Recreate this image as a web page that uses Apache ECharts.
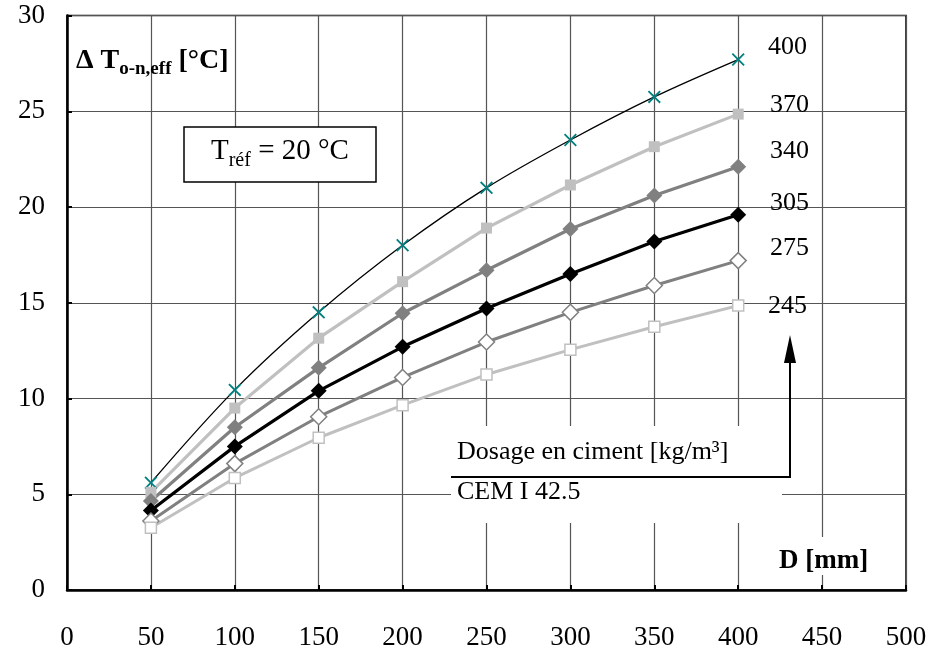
<!DOCTYPE html>
<html>
<head>
<meta charset="utf-8">
<script src="https://cdn.jsdelivr.net/npm/echarts@6/dist/echarts.min.js"></script>
<style>
	html, body { margin: 0; padding: 0; background: #fff; }
	#chart { width: 932px; height: 651px; }
</style>
</head>
<body>
<div id="chart"></div>
<script>
// épaisseur D [mm]
const dValues = [50, 100, 150, 200, 250, 300, 350, 400]

// dosage en ciment [kg/m3] -> ΔT [°C]
const dosages = ['400', '370', '340', '305', '275', '245']
const s400 = [5.6, 10.45, 14.5, 18.0, 21.0, 23.5, 25.75, 27.7]
const s370 = [5.1, 9.5, 13.15, 16.1, 18.9, 21.15, 23.15, 24.85]
const s340 = [4.65, 8.5, 11.6, 14.45, 16.7, 18.85, 20.6, 22.1]
const s305 = [4.15, 7.5, 10.4, 12.7, 14.7, 16.5, 18.2, 19.6]
const s275 = [3.6, 6.6, 9.05, 11.1, 12.95, 14.5, 15.9, 17.2]
const s245 = [3.25, 5.85, 7.95, 9.65, 11.25, 12.55, 13.75, 14.85]

const xTicks = [0, 50, 100, 150, 200, 250, 300, 350, 400, 450, 500]
const yTicks = [0, 5, 10, 15, 20, 25, 30]

const FONT = '"Liberation Serif", "Times New Roman", serif'
const crossPath = 'path://M0,1L1,0L5,4L9,0L10,1L6,5L10,9L9,10L5,6L1,10L0,9L4,5Z'

const pairs = (ys) => dValues.map((d, i) => [d, ys[i]])

const chart = echarts.init(document.getElementById('chart'))

chart.setOption({
	backgroundColor: '#fff',
	animation: false,
	grid: {
		left: 67, right: 26, top: 15.5, bottom: 61,
		show: true, borderColor: '#000', borderWidth: 1.5,
		containLabel: false, outerBoundsMode: 'none',
	},
	xAxis: {
		type: 'value',
		min: xTicks[0], max: xTicks[xTicks.length - 1], interval: 50,
		axisLine: { show: true, lineStyle: { color: '#000', width: 2.5 } },
		axisTick: { show: true, inside: true, length: 5, lineStyle: { color: '#000', width: 2 } },
		axisLabel: { color: '#000', fontFamily: FONT, fontSize: 27, margin: 34 },
		splitLine: { show: true, lineStyle: { color: '#555', width: 1.2 } },
	},
	yAxis: {
		type: 'value',
		min: yTicks[0], max: yTicks[yTicks.length - 1], interval: 5,
		axisLine: { show: true, lineStyle: { color: '#000', width: 2.5 } },
		axisTick: { show: true, inside: true, length: 5, lineStyle: { color: '#000', width: 2 } },
		axisLabel: { color: '#000', fontFamily: FONT, fontSize: 27, margin: 22 },
		splitLine: { show: true, lineStyle: { color: '#555', width: 1.2 } },
	},
	graphic: [
		// cadre Tréf
		{
			type: 'rect', z: 5,
			shape: { x: 184, y: 127, width: 192, height: 55 },
			style: { fill: '#fff', stroke: '#000', lineWidth: 1.5 },
		},
		{
			type: 'text', z: 6, left: 211, top: 137,
			style: {
				text: '{a|T}{s|réf}{a| = 20 °C}',
				rich: {
					a: { fontFamily: FONT, fontSize: 29, lineHeight: 32, fill: '#000', verticalAlign: 'bottom' },
					s: { fontFamily: FONT, fontSize: 20, lineHeight: 20, fill: '#000', verticalAlign: 'bottom', padding: [0, 0, -5, 0] },
				},
			},
		},
		// titre axe Y
		{
			type: 'text', z: 6, left: 76, top: 47,
			style: {
				text: '{a|Δ T}{s|o-n,eff}{a| [°C]}',
				rich: {
					a: { fontFamily: FONT, fontSize: 28, fontWeight: 'bold', lineHeight: 32, fill: '#000', verticalAlign: 'bottom' },
					s: { fontFamily: FONT, fontSize: 19, fontWeight: 'bold', lineHeight: 19, fill: '#000', verticalAlign: 'bottom', padding: [0, 0, -4, 0] },
				},
			},
		},
		// titre axe X
		{
			type: 'rect', z: 5,
			shape: { x: 776, y: 537, width: 96, height: 38 },
			style: { fill: '#fff' },
		},
		{
			type: 'text', z: 6, left: 779, top: 548,
			style: { text: 'D [mm]', fontFamily: FONT, fontSize: 27, fontWeight: 'bold', fill: '#000' },
		},
		// légende dosage
		{
			type: 'rect', z: 5,
			shape: { x: 451, y: 426, width: 331, height: 97 },
			style: { fill: '#fff' },
		},
		{
			type: 'text', z: 6, left: 457, top: 439,
			style: { text: 'Dosage en ciment [kg/m³]', fontFamily: FONT, fontSize: 26, fill: '#000' },
		},
		{
			type: 'text', z: 6, left: 457, top: 479,
			style: { text: 'CEM I 42.5', fontFamily: FONT, fontSize: 26, fill: '#000' },
		},
		{
			type: 'polyline', z: 6,
			shape: { points: [[451, 477], [790, 477], [790, 360]] },
			style: { stroke: '#000', lineWidth: 2, fill: null },
		},
		{
			type: 'polygon', z: 6,
			shape: { points: [[790, 335], [784, 363], [796, 363]] },
			style: { fill: '#000' },
		},
		// étiquettes des courbes
		...dosages.map((t, i) => ({
			type: 'text', z: 6,
			left: [768, 770, 770, 770, 770, 768][i],
			top: [34, 92, 138, 190, 235, 293][i],
			style: { text: t, fontFamily: FONT, fontSize: 26, fill: '#000' },
		})),
	],
	series: [
		{
			name: '400', type: 'line', data: pairs(s400), smooth: 0.35,
			lineStyle: { color: '#000', width: 1.3 },
			symbol: crossPath, symbolSize: 13,
			itemStyle: { color: '#008080' },
		},
		{
			name: '370', type: 'line', data: pairs(s370),
			lineStyle: { color: '#c0c0c0', width: 3.2 },
			symbol: 'rect', symbolSize: 11,
			itemStyle: { color: '#c0c0c0' },
		},
		{
			name: '340', type: 'line', data: pairs(s340),
			lineStyle: { color: '#808080', width: 3.2 },
			symbol: 'diamond', symbolSize: 16,
			itemStyle: { color: '#808080' },
		},
		{
			name: '305', type: 'line', data: pairs(s305),
			lineStyle: { color: '#000', width: 3.2 },
			symbol: 'diamond', symbolSize: 16,
			itemStyle: { color: '#000' },
		},
		{
			name: '275', type: 'line', data: pairs(s275),
			lineStyle: { color: '#808080', width: 3 },
			symbol: 'diamond', symbolSize: 16,
			itemStyle: { color: '#fff', borderColor: '#808080', borderWidth: 1.5 },
		},
		{
			name: '245', type: 'line', data: pairs(s245),
			lineStyle: { color: '#c0c0c0', width: 3 },
			symbol: 'rect', symbolSize: 11,
			itemStyle: { color: '#fff', borderColor: '#c0c0c0', borderWidth: 1.5 },
		},
	],
})
</script>
</body>
</html>
